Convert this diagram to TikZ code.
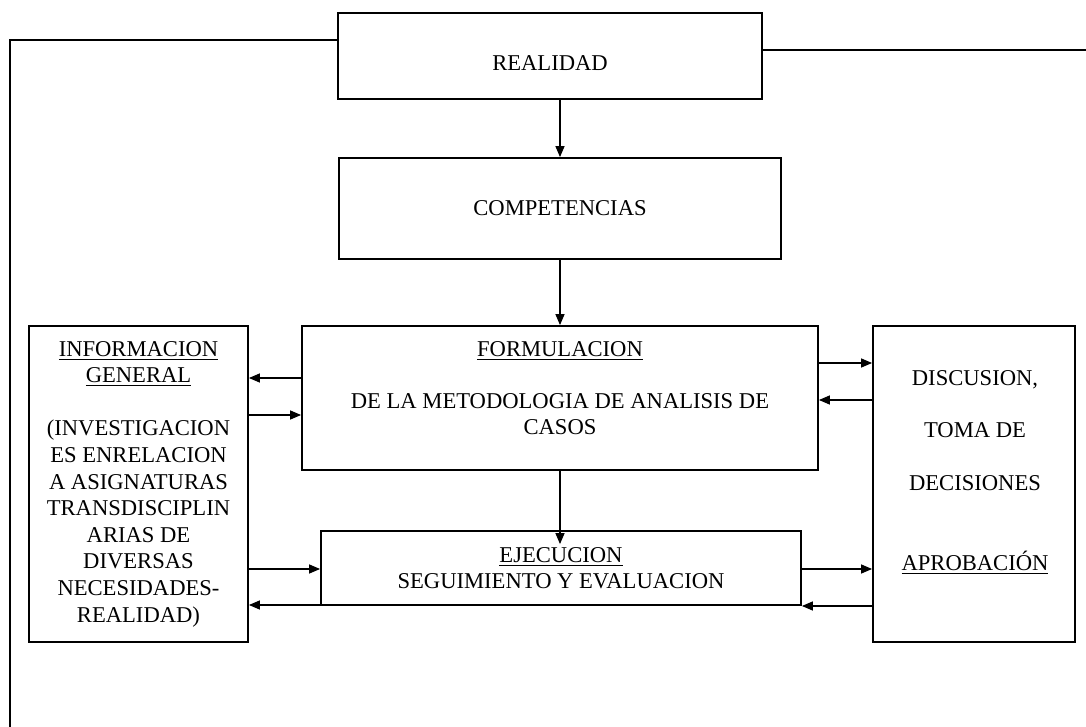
\documentclass[tikz,border=0pt]{standalone}
\usepackage{fontspec}
\setmainfont{Liberation Serif}
\usetikzlibrary{arrows.meta}

\begin{document}
\begin{tikzpicture}[x=0.5pt,y=-0.5pt,
    texto/.style={inner sep=0pt,align=center,font=\fontsize{11.3}{13.3}\selectfont},
    caja/.style={texto,draw,line width=0.9pt},
    flecha/.style={line width=0.7pt,-{Triangle[length=5.5pt,width=4.5pt]}}]
      \useasboundingbox (0,0) rectangle (1086,727);
      % boxes
      \node[caja,minimum width=212pt,minimum height=43pt] (real) at (550,56) {};
      \node[texto] (realtxt) at (550,63) {REALIDAD};
      \node[caja,minimum width=221pt,minimum height=50.5pt] (comp) at (560,208.5) {COMPETENCIAS};
      \node[caja,minimum width=258pt,minimum height=72pt] (form) at (560,398) {};
      \node[texto] (formtxt) at (560,388)
        {\underline{FORMULACION}\\[12.7pt]DE LA METODOLOGIA DE ANALISIS DE\\CASOS};
      \node[caja,minimum width=109.5pt,minimum height=158pt] (info) at (138.5,484)
        {\underline{INFORMACION}\\\underline{GENERAL}\\[13.3pt](INVESTIGACION\\ES ENRELACION\\A ASIGNATURAS\\TRANSDISCIPLIN\\ARIAS DE\\DIVERSAS\\NECESIDADES-\\REALIDAD)};
      \node[caja,minimum width=240pt,minimum height=37pt] (ejec) at (561,568)
        {\underline{EJECUCION}\\SEGUIMIENTO Y EVALUACION};
      \node[caja,minimum width=101pt,minimum height=158pt] (disc) at (974,484) {};
      \node[texto] (disctxt) at (975,473)
        {DISCUSION,\\[12.7pt]TOMA DE\\[13.2pt]DECISIONES\\[26.7pt]\underline{APROBACIÓN}};
      % outer lines
      \coordinate (esq) at (10,40);
      \coordinate (fin) at (10,727);
      \coordinate (der) at (1086,50);
      \draw[line width=1pt] (real.west |- esq) -- (esq) -- (fin);
      \draw[line width=1pt] (real.east |- der) -- (der);
      % vertical arrows
      \draw[flecha] (comp.north |- real.south) -- (comp.north);
      \draw[flecha] (comp.south) -- (form.north);
      \draw[flecha,shorten >=-7pt] (form.south) -- (form.south |- ejec.north);
      % left side
      \draw[flecha] (form.west |- 0,378) -- (info.east |- 0,378);
      \draw[flecha] (info.east |- 0,415) -- (form.west |- 0,415);
      \draw[flecha] (info.east |- 0,569) -- (ejec.west |- 0,569);
      \draw[flecha] (ejec.west |- 0,605) -- (info.east |- 0,605);
      % right side
      \draw[flecha] (form.east |- 0,363) -- (disc.west |- 0,363);
      \draw[flecha] (disc.west |- 0,400) -- (form.east |- 0,400);
      \draw[flecha] (ejec.east |- 0,569) -- (disc.west |- 0,569);
      \draw[flecha] (disc.west |- 0,606) -- (ejec.east |- 0,606);
    \end{tikzpicture}
\end{document}
